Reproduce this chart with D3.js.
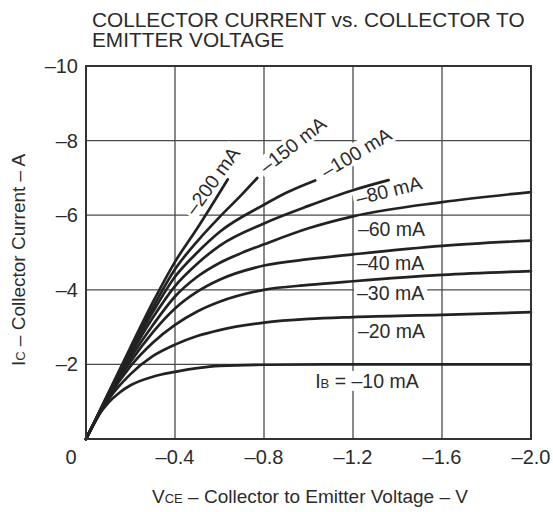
<!DOCTYPE html>
<html>
<head>
<meta charset="utf-8">
<script src="https://cdn.jsdelivr.net/npm/d3@7"></script>
<style>
  body { margin: 0; background: #fff; }
  text { font-family: "Liberation Sans", Arial, Helvetica, sans-serif; fill: #2b2b2b; }
</style>
</head>
<body>
<div id="chart"></div>
<script>
// Base current of each curve (mA) and the points (V, A)
const ibValues = [-10, -20, -30, -40, -60, -80, -100, -150, -200];

const vceValues = [
  [0, -0.05, -0.1, -0.15, -0.2, -0.3, -0.4, -0.5, -0.6, -0.8, -1.2, -1.6, -2.0],
  [0, -0.1, -0.2, -0.3, -0.4, -0.5, -0.6, -0.8, -1.0, -1.2, -1.6, -2.0],
  [0, -0.1, -0.2, -0.3, -0.4, -0.5, -0.6, -0.8, -1.0, -1.2, -1.6, -2.0],
  [0, -0.1, -0.2, -0.3, -0.4, -0.5, -0.6, -0.8, -1.0, -1.2, -1.6, -2.0],
  [0, -0.1, -0.2, -0.3, -0.4, -0.5, -0.6, -0.7, -0.8, -1.0, -1.2, -1.6, -2.0],
  [0, -0.1, -0.2, -0.3, -0.4, -0.5, -0.6, -0.8, -1.0, -1.2, -1.36],
  [0, -0.1, -0.2, -0.3, -0.4, -0.5, -0.6, -0.8, -0.9, -1.03],
  [0, -0.1, -0.2, -0.3, -0.4, -0.5, -0.6, -0.7, -0.77],
  [0, -0.1, -0.2, -0.3, -0.4, -0.5, -0.637]
];

const icValues = [
  [0, -0.58, -0.97, -1.24, -1.44, -1.67, -1.8, -1.9, -1.96, -1.99, -2.0, -2.0, -2.0],
  [0, -1.05, -1.74, -2.22, -2.53, -2.76, -2.92, -3.12, -3.22, -3.27, -3.33, -3.4],
  [0, -1.1, -1.95, -2.58, -3.06, -3.42, -3.68, -4.0, -4.13, -4.23, -4.4, -4.5],
  [0, -1.13, -2.07, -2.86, -3.5, -3.95, -4.27, -4.65, -4.82, -4.95, -5.18, -5.32],
  [0, -1.15, -2.17, -3.05, -3.82, -4.35, -4.72, -4.99, -5.22, -5.65, -5.97, -6.35, -6.62],
  [0, -1.17, -2.26, -3.25, -4.1, -4.7, -5.18, -5.78, -6.25, -6.67, -6.94],
  [0, -1.19, -2.33, -3.4, -4.35, -5.0, -5.55, -6.28, -6.6, -6.93],
  [0, -1.21, -2.4, -3.52, -4.55, -5.3, -5.95, -6.55, -7.0],
  [0, -1.23, -2.46, -3.66, -4.75, -5.65, -6.96]
];

// Tick values and their labels
const xTicks = [-0.4, -0.8, -1.2, -1.6, -2.0];
const xTickLabels = ["\u20130.4", "\u20130.8", "\u20131.2", "\u20131.6", "\u20132.0"];
const yTicks = [-2, -4, -6, -8, -10];
const yTickLabels = ["\u20132", "\u20134", "\u20136", "\u20138", "\u201310"];

// Curve labels: anchor point (V, A) and rotation
const labelVce = [-1.03, -1.222, -1.218, -1.218, -1.222, -1.222, -1.08, -0.81, -0.49];
const labelIc = [-1.37, -2.71, -3.73, -4.53, -5.44, -6.27, -6.98, -7.1, -5.97];
const labelAngle = [0, 0, 0, 0, 0, -14, -31, -38, -54];

const width = 553;
const height = 512;
const margin = { top: 66, right: 22, bottom: 73, left: 86 };

const svg = d3.select("#chart")
  .append("svg")
  .attr("width", width)
  .attr("height", height);

const x = d3.scaleLinear()
  .domain([0, -2.0])
  .range([margin.left, width - margin.right]);

const y = d3.scaleLinear()
  .domain([0, -10])
  .range([height - margin.bottom, margin.top]);

// Grid lines
const grid = svg.append("g")
  .attr("stroke", "#4a4a4a")
  .attr("stroke-width", 1.3);

grid.selectAll(".vgrid")
  .data(xTicks.slice(0, -1))
  .join("line")
  .attr("x1", d => x(d)).attr("x2", d => x(d))
  .attr("y1", y(0)).attr("y2", y(-10));

grid.selectAll(".hgrid")
  .data(yTicks.slice(0, -1))
  .join("line")
  .attr("x1", x(0)).attr("x2", x(-2.0))
  .attr("y1", d => y(d)).attr("y2", d => y(d));

// Curve labels with white boxes that cut the grid
const labels = svg.append("g");
ibValues.forEach((ib, i) => {
  const g = labels.append("g")
    .attr("transform", `translate(${x(labelVce[i])},${y(labelIc[i])}) rotate(${labelAngle[i]})`);
  const rect = g.append("rect").attr("fill", "#fff");
  const t = g.append("text").style("font-size", "19.5px");
  if (i === 0) {
    t.append("tspan").text("I");
    t.append("tspan").style("font-size", "13px").text("B");
    t.append("tspan").text(" = \u201310 mA");
  } else {
    t.text(`\u2013${Math.abs(ib)} mA`);
  }
  const b = t.node().getBBox();
  rect.attr("x", b.x - 3).attr("y", b.y + 1)
    .attr("width", b.width + 6).attr("height", b.height - 2);
});

// Curves
const line = d3.line()
  .x(d => x(d[0]))
  .y(d => y(d[1]))
  .curve(d3.curveMonotoneX);

svg.append("g")
  .selectAll("path")
  .data(ibValues.map((ib, i) => vceValues[i].map((v, j) => [v, icValues[i][j]])))
  .join("path")
  .attr("d", line)
  .attr("fill", "none")
  .attr("stroke", "#222")
  .attr("stroke-width", 2.7)
  .attr("stroke-linecap", "round");

// Frame
svg.append("rect")
  .attr("x", x(0))
  .attr("y", y(-10))
  .attr("width", x(-2.0) - x(0))
  .attr("height", y(0) - y(-10))
  .attr("fill", "none")
  .attr("stroke", "#333")
  .attr("stroke-width", 2);

// Tick labels
svg.append("g")
  .selectAll("text")
  .data(xTicks)
  .join("text")
  .attr("x", d => x(d))
  .attr("y", y(0) + 25)
  .attr("text-anchor", "middle")
  .style("font-size", "20px")
  .text((d, i) => xTickLabels[i]);

svg.append("g")
  .selectAll("text")
  .data(yTicks)
  .join("text")
  .attr("x", x(0) - 8)
  .attr("y", d => y(d) + 7)
  .attr("text-anchor", "end")
  .style("font-size", "20px")
  .text((d, i) => yTickLabels[i]);

svg.append("text")
  .attr("x", x(0) - 15)
  .attr("y", y(0) + 25)
  .attr("text-anchor", "middle")
  .style("font-size", "20px")
  .text("0");

// Title, two lines
svg.append("text")
  .attr("x", 92)
  .attr("y", 27)
  .style("font-size", "20.8px")
  .text("COLLECTOR CURRENT vs. COLLECTOR TO");
svg.append("text")
  .attr("x", 92)
  .attr("y", 47)
  .style("font-size", "20.8px")
  .text("EMITTER VOLTAGE");

// Axis titles
const xTitle = svg.append("text")
  .attr("x", 310)
  .attr("y", 503)
  .attr("text-anchor", "middle")
  .style("font-size", "19px");
xTitle.append("tspan").text("V");
xTitle.append("tspan").style("font-size", "13px").text("CE");
xTitle.append("tspan").text(" \u2013 Collector to Emitter Voltage \u2013 V");

const yTitle = svg.append("text")
  .attr("transform", `translate(25,260) rotate(-90)`)
  .attr("text-anchor", "middle")
  .style("font-size", "19px");
yTitle.append("tspan").text("I");
yTitle.append("tspan").style("font-size", "13px").text("C");
yTitle.append("tspan").text(" \u2013 Collector Current \u2013 A");
</script>
</body>
</html>
